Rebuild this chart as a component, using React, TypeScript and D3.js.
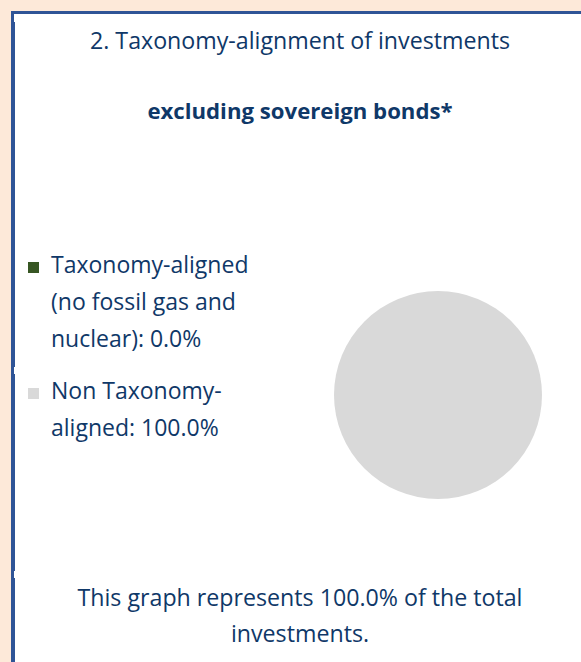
import React from "react";
import * as d3 from "d3";

const categories = ["Taxonomy-aligned (no fossil gas and nuclear)", "Non Taxonomy-aligned"];
const values = [0.0, 100.0];
const colors = ["#375623", "#D9D9D9"];
const legendLines = [
  ["Taxonomy-aligned", "(no fossil gas and", "nuclear): 0.0%"],
  ["Non Taxonomy-", "aligned: 100.0%"],
];
const titleText = "2. Taxonomy-alignment of investments";
const subtitleText = "excluding sovereign bonds*";
const footLines = ["This graph represents 100.0% of the total", "investments."];

const W = 581;
const H = 662;
const TEXT = "#0F3868";
const FONT = "'Open Sans', 'Noto Sans', sans-serif";

export default function App() {
  const pie = d3.pie<number>().sort(null).value((d) => d);
  const arcs = pie(values);
  const arc = d3.arc<d3.PieArcDatum<number>>().innerRadius(0).outerRadius(104);
  const cx = 438;
  const cy = 395;
  const legendY = [273, 399];
  const lineH = 37;
  return (
    <svg width={W} height={H} style={{ position: "absolute", left: 0, top: 0 }} xmlns="http://www.w3.org/2000/svg">
      <rect x={0} y={0} width={W} height={H} fill="#FDE9D9" />
      <rect x={11} y={11} width={W} height={H} fill="#2F5496" />
      <rect x={15} y={14} width={W} height={H} fill="#FFFFFF" />
      <rect x={14} y={14} width={1} height={8} fill="#FFFFFF" />
      <rect x={14} y={367} width={1} height={7} fill="#FFFFFF" />
      <rect x={14} y={571} width={1} height={7} fill="#FFFFFF" />
      <text x={300} y={49} textAnchor="middle" fontFamily={FONT} fontSize={23.2} fill={TEXT}>
        {titleText}
      </text>
      <text x={300} y={119} textAnchor="middle" fontFamily={FONT} fontSize={22.2} fontWeight="bold" fill={TEXT}>
        {subtitleText}
      </text>
      <g transform={`translate(${cx},${cy})`}>
        {arcs.map((a, i) => (
          <path key={categories[i]} d={arc(a) || ""} fill={colors[i]} />
        ))}
      </g>
      {legendLines.map((lines, i) => (
        <g key={categories[i]}>
          <rect x={28} y={legendY[i] - 11} width={11} height={11} fill={colors[i]} />
          {lines.map((l, j) => (
            <text key={j} x={51} y={legendY[i] + j * lineH} fontFamily={FONT} fontSize={23} fill={TEXT}>
              {l}
            </text>
          ))}
        </g>
      ))}
      {footLines.map((l, j) => (
        <text key={j} x={300} y={606 + j * 36} textAnchor="middle" fontFamily={FONT} fontSize={23.2} fill={TEXT}>
          {l}
        </text>
      ))}
    </svg>
  );
}
